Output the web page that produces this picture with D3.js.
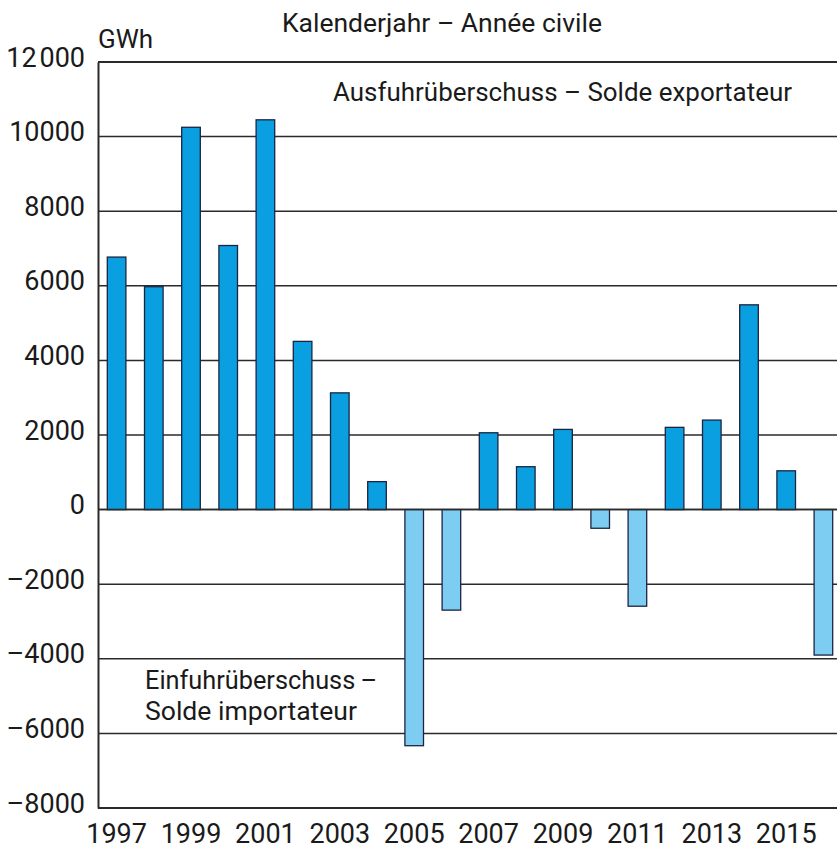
<!DOCTYPE html>
<html>
  <head>
    <title>Stromaussenhandel</title>
    <script src="https://d3js.org/d3.v7.min.js"></script>
    <style>
      body { margin: 0; background: #fff; }
      text { font-family: Roboto, "Open Sans", sans-serif; fill: #1a1a1a; }
      .tick text { font-size: 27px; }
      .label { font-size: 26px; }
    </style>
  </head>
  <body>
    <svg width="837" height="852"></svg>
    <script>
      // Kalenderjahr, Saldo in GWh (positiv = Ausfuhrüberschuss)
      const years = d3.range(1997, 2017);
      const balance = [6770, 5975, 10250, 7080, 10450, 4510, 3130, 750, -6330, -2695,
                       2060, 1150, 2150, -500, -2590, 2205, 2400, 5490, 1040, -3900];
      const yTicks = [12000, 10000, 8000, 6000, 4000, 2000, 0, -2000, -4000, -6000, -8000];
      const xTicks = [1997, 1999, 2001, 2003, 2005, 2007, 2009, 2011, 2013, 2015];

      const data = years.map((y, i) => ({ year: y, value: balance[i] }));

      const svg = d3.select("svg");
      const plotLeft = 98, plotTop = 62, plotBottom = 808;

      const x = d3.scaleBand()
        .domain(years)
        .range([plotLeft, plotLeft + 20 * 37.2])
        .paddingInner(0.5)
        .paddingOuter(0.25);

      const y = d3.scaleLinear()
        .domain([-8000, 12000])
        .range([plotBottom, plotTop]);

      // gridlines
      svg.append("g")
        .selectAll("line")
        .data(yTicks)
        .enter().append("line")
          .attr("x1", plotLeft)
          .attr("x2", 837)
          .attr("y1", d => y(d))
          .attr("y2", d => y(d))
          .attr("stroke", "#2a2a2a")
          .attr("stroke-width", d => (d === 12000 || d === -8000) ? 2 : 1.5);

      // bars
      svg.append("g")
        .selectAll("rect")
        .data(data)
        .enter().append("rect")
          .attr("x", d => x(d.year))
          .attr("width", x.bandwidth())
          .attr("y", d => y(Math.max(0, d.value)))
          .attr("height", d => Math.abs(y(d.value) - y(0)))
          .attr("fill", d => d.value >= 0 ? "#0a9fe0" : "#7dcdf2")
          .attr("stroke", "#1c2440")
          .attr("stroke-width", 1.3);

      // zero line over bars
      svg.append("line")
        .attr("x1", plotLeft).attr("x2", 837)
        .attr("y1", y(0)).attr("y2", y(0))
        .attr("stroke", "#2a2a2a")
        .attr("stroke-width", 1.5);

      // y axis
      const yAxis = d3.axisLeft(y)
        .tickValues(yTicks)
        .tickSize(0)
        .tickPadding(13)
        .tickFormat(d => d < 0 ? "\u2013" + Math.abs(d) : (d === 12000 ? "12\u200A000" : d));

      const yG = svg.append("g")
        .attr("transform", `translate(${plotLeft},0)`)
        .call(yAxis);
      yG.select(".domain").attr("stroke", "#2a2a2a").attr("stroke-width", 2);
      yG.selectAll(".tick text").attr("dy", "0.15em");

      // x axis labels
      const xAxis = d3.axisBottom(x)
        .tickValues(xTicks)
        .tickSize(0)
        .tickPadding(16);

      const xG = svg.append("g")
        .attr("transform", `translate(0,${plotBottom})`)
        .call(xAxis);
      xG.select(".domain").remove();

      // labels
      svg.append("text")
        .attr("class", "label")
        .attr("x", 98).attr("y", 48)
        .text("GWh");

      svg.append("text")
        .attr("class", "label")
        .attr("x", 282).attr("y", 32)
        .attr("textLength", 320)
        .attr("lengthAdjust", "spacingAndGlyphs")
        .text("Kalenderjahr \u2013 Année civile");

      svg.append("text")
        .attr("class", "label")
        .attr("x", 333).attr("y", 101)
        .attr("textLength", 459)
        .attr("lengthAdjust", "spacingAndGlyphs")
        .text("Ausfuhrüberschuss \u2013 Solde exportateur");

      svg.append("text")
        .attr("class", "label")
        .attr("x", 145).attr("y", 689)
        .attr("textLength", 232)
        .attr("lengthAdjust", "spacingAndGlyphs")
        .text("Einfuhrüberschuss\u2009\u2013");

      svg.append("text")
        .attr("class", "label")
        .attr("x", 145).attr("y", 720)
        .attr("textLength", 212)
        .attr("lengthAdjust", "spacingAndGlyphs")
        .text("Solde importateur");
    </script>
  </body>
</html>
